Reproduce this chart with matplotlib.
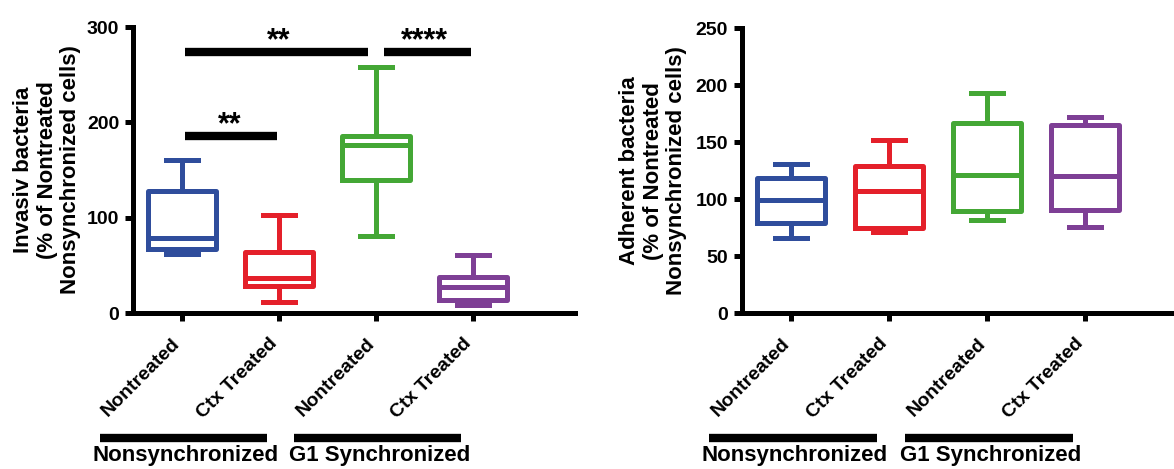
import matplotlib
matplotlib.use('Agg')
import matplotlib.pyplot as plt
import matplotlib.transforms as mtransforms

# categories
conditions = ['Nontreated', 'Ctx Treated', 'Nontreated', 'Ctx Treated']
group_names = ['Nonsynchronized', 'G1 Synchronized']
group_members = [(0, 1), (2, 3)]
colors = ['#2f4d9c', '#e4202a', '#44a735', '#7e3f95']

# invasive bacteria (box stats)
inv_lo = [62, 12, 81, 8]
inv_q1 = [67, 28, 139, 14]
inv_med = [79, 37, 176, 27]
inv_q3 = [128, 64, 186, 38]
inv_hi = [161, 103, 258, 61]

# adherent bacteria (box stats)
adh_lo = [66, 71, 82, 76]
adh_q1 = [79, 75, 90, 91]
adh_med = [99, 107, 121, 120]
adh_q3 = [119, 129, 167, 165]
adh_hi = [131, 152, 193, 172]

# significance: (from, to, height, stars)
sig_from = [0, 0, 2]
sig_to = [1, 2, 3]
sig_y = [186, 274, 274]
sig_text = ['**', '**', '****']

FONT = ['Liberation Sans Narrow', 'Liberation Sans', 'DejaVu Sans']
plt.rcParams['font.family'] = FONT
plt.rcParams['font.weight'] = 'bold'

LW = 3.6

fig = plt.figure(figsize=(11.74, 4.69), dpi=100)
ax1 = fig.add_axes([0.1133, 0.3326, 0.3765, 0.6098])
ax2 = fig.add_axes([0.632, 0.332, 0.38, 0.6077])


def draw_boxes(ax, lo, q1, med, q3, hi):
    for i in range(len(conditions)):
        st = [dict(whislo=lo[i], q1=q1[i], med=med[i], q3=q3[i], whishi=hi[i], fliers=[])]
        c = colors[i]
        ax.bxp(st, positions=[i], widths=0.7, capwidths=0.33, showfliers=False,
               boxprops=dict(color=c, linewidth=LW, solid_joinstyle='round'),
               whiskerprops=dict(color=c, linewidth=LW),
               capprops=dict(color=c, linewidth=LW),
               medianprops=dict(color=c, linewidth=LW),
               manage_ticks=False)


def style_axes(ax, ymax, ystep):
    ax.set_xlim(-0.5, 4.05)
    ax.set_ylim(0, ymax)
    ax.set_yticks(range(0, ymax + 1, ystep))
    ax.set_xticks(range(len(conditions)))
    ax.set_xticklabels(conditions, rotation=45, ha='right', va='center',
                       rotation_mode='anchor', fontsize=14, fontweight='bold')
    for lab in ax.get_yticklabels():
        lab.set_fontsize(14)
        lab.set_fontweight('bold')
    ax.spines['top'].set_visible(False)
    ax.spines['right'].set_visible(False)
    ax.spines['left'].set_linewidth(LW)
    ax.spines['bottom'].set_linewidth(LW)
    ax.tick_params(axis='both', width=LW, length=6, direction='out', pad=4)
    ax.tick_params(axis='x', pad=14)
    # shift rotated labels a little to the left
    offset = mtransforms.ScaledTranslation(-4 / 100, 0, fig.dpi_scale_trans)
    for lab in ax.get_xticklabels():
        lab.set_transform(lab.get_transform() + offset)

    tr = mtransforms.blended_transform_factory(ax.transData, fig.transFigure)
    for name, (a, b) in zip(group_names, group_members):
        ax.plot([a - 0.84, b - 0.12], [0.066, 0.066], color='black', linewidth=6,
                transform=tr, clip_on=False, solid_capstyle='butt')
        ax.text((a + b) / 2 - 0.46, 0.028, name, transform=tr, ha='center', va='center',
                fontsize=16, fontweight='bold')


draw_boxes(ax1, inv_lo, inv_q1, inv_med, inv_q3, inv_hi)
style_axes(ax1, 300, 100)
ax1.set_ylabel('Invasiv bacteria\n(% of Nontreated\nNonsynchronized cells)',
               fontsize=16, fontweight='bold', labelpad=4, linespacing=1.15)

for a, b, y, t in zip(sig_from, sig_to, sig_y, sig_text):
    x1 = a + (0.08 if a in sig_to else 0.03)
    x2 = b - (0.08 if b in sig_from else 0.02)
    ax1.plot([x1, x2], [y, y], color='black', linewidth=6, solid_capstyle='butt',
             clip_on=False)
    ax1.text((a + b) / 2, y - 5, t, ha='center', va='bottom', fontsize=22,
             fontweight='bold')

draw_boxes(ax2, adh_lo, adh_q1, adh_med, adh_q3, adh_hi)
style_axes(ax2, 250, 50)
ax2.set_ylabel('Adherent bacteria\n(% of Nontreated\nNonsynchronized cells)',
               fontsize=16, fontweight='bold', labelpad=6, linespacing=1.15)

fig.savefig('out.png', dpi=100)
